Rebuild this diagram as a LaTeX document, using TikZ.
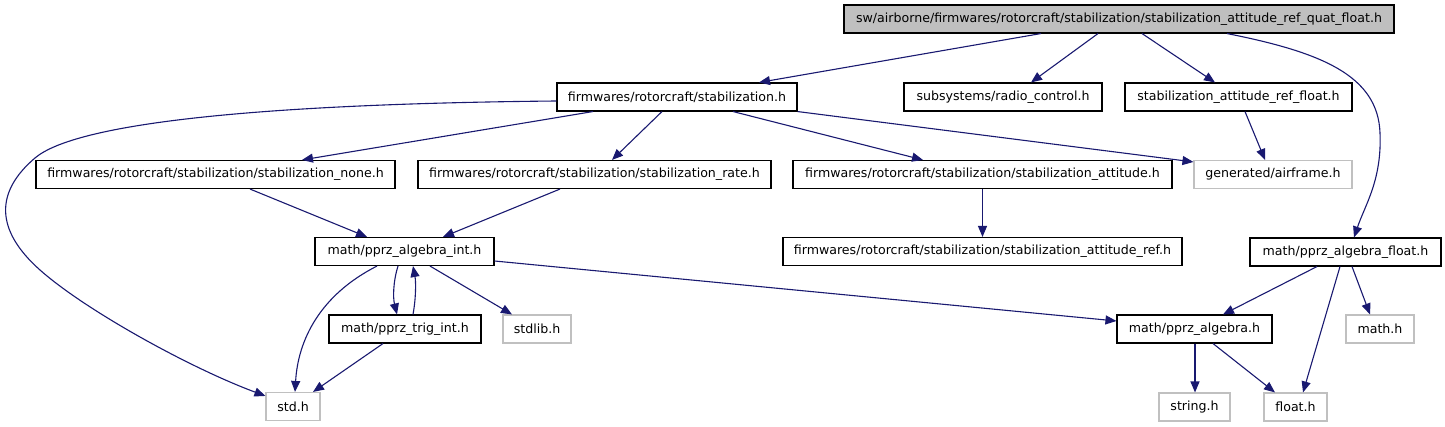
\documentclass[tikz,border=0pt]{standalone}
\usepackage{fontspec}
\setmainfont{DejaVu Sans}
\usetikzlibrary{arrows.meta}
\definecolor{edgeblue}{RGB}{25,25,112}
\definecolor{rootgray}{RGB}{191,191,191}
\definecolor{lightborder}{RGB}{192,192,192}
\tikzset{
  box/.style={draw=black, line width=1.1pt, fill=white, minimum height=28pt, inner sep=0pt,
    font=\fontsize{12.6}{15}\selectfont},
  rootbox/.style={box, fill=rootgray},
  extbox/.style={box, draw=lightborder},
  dep/.style={draw=edgeblue, line width=1.1pt, -{Triangle[length=11pt,width=9pt]}, color=edgeblue}
}
\begin{document}
\begin{tikzpicture}[x=1pt,y=-1pt]
\useasboundingbox (0,0) rectangle (1445,427);
\node[rootbox, minimum width=550pt] (root) at (1119,19) {sw/airborne/firmwares/rotorcraft/stabilization/stabilization\_attitude\_ref\_quat\_float.h};
\node[box, minimum width=240pt] (stab) at (677,97) {firmwares/rotorcraft/stabilization.h};
\node[box, minimum width=198pt] (radio) at (1003,97) {subsystems/radio\_control.h};
\node[box, minimum width=227pt] (reff) at (1238.5,97) {stabilization\_attitude\_ref\_float.h};
\node[box, minimum width=359pt] (none) at (215.5,174.5) {firmwares/rotorcraft/stabilization/stabilization\_none.h};
\node[box, minimum width=353pt] (rate) at (594.5,174.5) {firmwares/rotorcraft/stabilization/stabilization\_rate.h};
\node[box, minimum width=379pt] (att) at (982.5,174.5) {firmwares/rotorcraft/stabilization/stabilization\_attitude.h};
\node[extbox, minimum width=158pt] (airframe) at (1273,174.5) {generated/airframe.h};
\node[box, minimum width=399pt] (attref) at (982.5,251.5) {firmwares/rotorcraft/stabilization/stabilization\_attitude\_ref.h};
\node[box, minimum width=191pt] (algf) at (1345.5,252) {math/pprz\_algebra\_float.h};
\node[box, minimum width=179pt] (algi) at (404.5,251.5) {math/pprz\_algebra\_int.h};
\node[box, minimum width=152pt] (trig) at (405,329) {math/pprz\_trig\_int.h};
\node[extbox, minimum width=68pt] (stdlib) at (537,329) {stdlib.h};
\node[extbox, minimum width=54pt] (std) at (293,406.5) {std.h};
\node[box, minimum width=155pt] (alg) at (1194.5,329) {math/pprz\_algebra.h};
\node[extbox, minimum width=68pt] (math) at (1380,329) {math.h};
\node[extbox, minimum width=71pt] (string) at (1194.5,407) {string.h};
\node[extbox, minimum width=63pt] (float) at (1295.5,407) {float.h};

\draw[dep] ([xshift=-78pt]root.south) -- ([xshift=82pt]stab.north);
\draw[dep] ([xshift=-21pt]root.south) -- ([xshift=28pt]radio.north);
\draw[dep] ([xshift=23pt]root.south) -- ([xshift=-23.5pt]reff.north);
\draw[dep] ([xshift=108pt]root.south) .. controls (1320,52) and (1378,75) .. (1380,133)
  .. controls (1382,180) and (1365,205) .. ([xshift=8.5pt]algf.north);

\draw[dep] ([yshift=-4pt]stab.west) .. controls (250,104) and (75,124) .. (35,158)
  .. controls (-5,192) and (-5,230) .. (40,270)
  .. controls (85,310) and (190,368) .. ([yshift=-4pt]std.north west);
\draw[dep] ([xshift=-84pt]stab.south) -- ([xshift=86.5pt]none.north);
\draw[dep] ([xshift=-15pt]stab.south) -- ([xshift=17.5pt]rate.north);
\draw[dep] ([xshift=56pt]stab.south) -- ([xshift=-59.5pt]att.north);
\draw[dep] (stab.south east) -- ([yshift=-2pt]airframe.north west);
\draw[dep] ([xshift=6.5pt]reff.south) -- ([xshift=-8pt]airframe.north);

\draw[dep] ([xshift=34.5pt]none.south) -- ([xshift=-37.5pt]algi.north);
\draw[dep] ([xshift=-34.5pt]rate.south) -- ([xshift=38.5pt]algi.north);
\draw[dep] (att.south) -- (attref.north);

\draw[dep] ([xshift=-27.5pt]algi.south) .. controls (320,295) and (298,340) .. ([xshift=2pt]std.north);
\draw[dep] ([xshift=-6.5pt]algi.south) .. controls (393,282) and (393,298) .. ([xshift=-8pt]trig.north);
\draw[dep] ([xshift=8pt]trig.north) .. controls (416,298) and (416,282) .. ([xshift=8.5pt]algi.south);
\draw[dep] ([xshift=25.5pt]algi.south) -- ([xshift=-25pt]stdlib.north);
\draw[dep] ([yshift=-9.5pt]algi.east) -- ([yshift=8pt]alg.west);
\draw[dep] ([xshift=-22pt]trig.south) -- ([xshift=20pt]std.north);

\draw[dep] ([xshift=-28.5pt]algf.south) -- ([xshift=28.5pt]alg.north);
\draw[dep] ([xshift=-5.5pt]algf.south) -- ([xshift=7.5pt]float.north);
\draw[dep] ([xshift=6.5pt]algf.south) -- ([xshift=-10pt]math.north);
\draw[dep] ([xshift=0.5pt]alg.south) -- ([xshift=0.5pt]string.north);
\draw[dep] ([xshift=18.5pt]alg.south) -- ([xshift=-20.5pt]float.north);
\end{tikzpicture}
\end{document}
